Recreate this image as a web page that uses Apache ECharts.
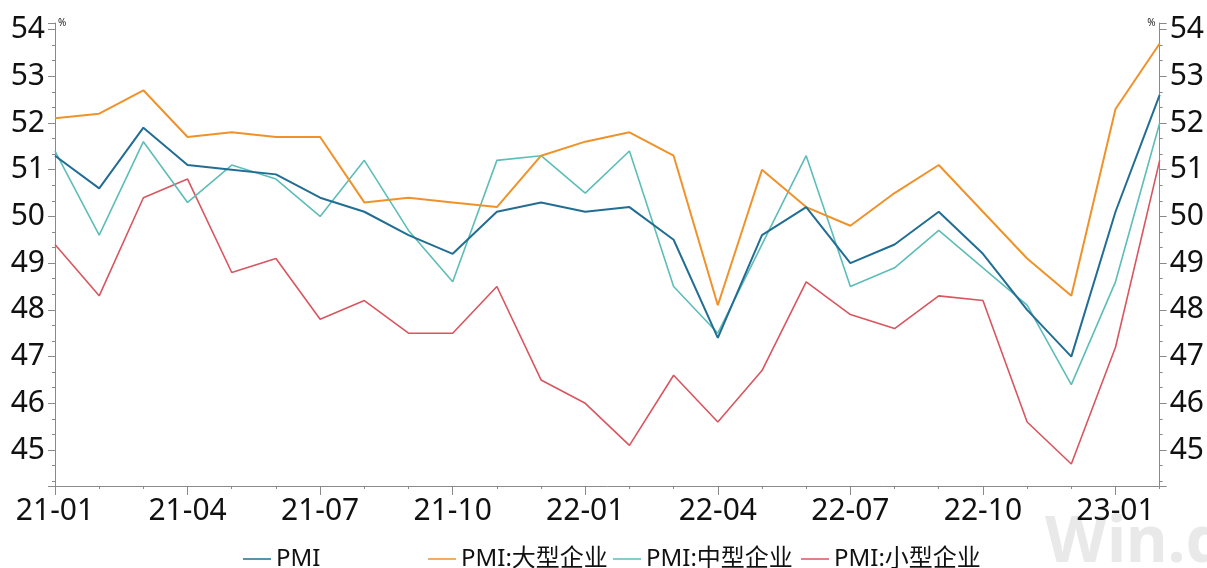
<!DOCTYPE html>
<html>
<head>
<meta charset="utf-8">
<script src="https://cdn.jsdelivr.net/npm/echarts@6/dist/echarts.min.js"></script>
<style>
  html, body { margin: 0; padding: 0; background: #fff; }
  #chart { width: 1207px; height: 568px; }
</style>
</head>
<body>
<div id="chart"></div>
<script>
// Monthly manufacturing PMI, overall and by enterprise size (%)
const months = [
  '21-01','21-02','21-03','21-04','21-05','21-06','21-07','21-08','21-09','21-10','21-11','21-12',
  '22-01','22-02','22-03','22-04','22-05','22-06','22-07','22-08','22-09','22-10','22-11','22-12',
  '23-01','23-02'
];
const pmi = [51.3, 50.6, 51.9, 51.1, 51.0, 50.9, 50.4, 50.1, 49.6, 49.2, 50.1, 50.3,
             50.1, 50.2, 49.5, 47.4, 49.6, 50.2, 49.0, 49.4, 50.1, 49.2, 48.0, 47.0,
             50.1, 52.6];
const pmiLarge = [52.1, 52.2, 52.7, 51.7, 51.8, 51.7, 51.7, 50.3, 50.4, 50.3, 50.2, 51.3,
                  51.6, 51.8, 51.3, 48.1, 51.0, 50.2, 49.8, 50.5, 51.1, 50.1, 49.1, 48.3,
                  52.3, 53.7];
const pmiMedium = [51.4, 49.6, 51.6, 50.3, 51.1, 50.8, 50.0, 51.2, 49.7, 48.6, 51.2, 51.3,
                   50.5, 51.4, 48.5, 47.5, 49.4, 51.3, 48.5, 48.9, 49.7, 48.9, 48.1, 46.4,
                   48.6, 52.0];
const pmiSmall = [49.4, 48.3, 50.4, 50.8, 48.8, 49.1, 47.8, 48.2, 47.5, 47.5, 48.5, 46.5,
                  46.0, 45.1, 46.6, 45.6, 46.7, 48.6, 47.9, 47.6, 48.3, 48.2, 45.6, 44.7,
                  47.2, 51.2];
const seriesNames = ['PMI', 'PMI:大型企业', 'PMI:中型企业', 'PMI:小型企业'];
const colors = ['#226e93', '#f0922a', '#5dbdb8', '#d8565f'];
const legendLefts = [238, 423, 608, 796];

const FONT = '"Noto Sans", "Noto Sans CJK SC", sans-serif';
const AXIS_COLOR = '#8a8a8a';
const Y_MIN = 44.23, Y_MAX = 54.14;

const chart = echarts.init(document.getElementById('chart'), null, { renderer: 'canvas' });

function yAxisDef(pos) {
  const left = pos === 'left';
  return {
    type: 'value',
    position: pos,
    min: Y_MIN,
    max: Y_MAX,
    splitNumber: 10,
    name: '%',
    nameLocation: 'end',
    nameGap: 0,
    nameTextStyle: {
      fontSize: 10, color: '#222', fontFamily: FONT,
      align: left ? 'left' : 'right', verticalAlign: 'middle',
      padding: left ? [0, 0, 0, 3] : [0, 4, 0, 0]
    },
    axisLine: { show: true, lineStyle: { color: AXIS_COLOR, width: 1 } },
    axisTick: { show: true, length: 7, lineStyle: { color: AXIS_COLOR } },
    minorTick: { show: true, splitNumber: 3, length: 3, lineStyle: { color: AXIS_COLOR } },
    splitLine: { show: false },
    axisLabel: {
      show: true, margin: 10, fontSize: 30, color: '#111', fontFamily: FONT,
      showMinLabel: false, showMaxLabel: false,
      formatter: v => (Math.abs(v - Math.round(v)) < 1e-6 ? String(Math.round(v)) : '')
    }
  };
}

// one legend block per series so each entry sits in its own fixed column
const legends = seriesNames.map((name, i) => ({
  data: [name],
  left: legendLefts[i],
  top: 542,
  icon: 'rect',
  itemWidth: 28,
  itemHeight: 1.5,
  textStyle: { fontSize: 24, color: '#111', fontFamily: FONT }
}));

const option = {
  backgroundColor: '#fff',
  animation: false,
  grid: { left: 55, right: 47, top: 23, bottom: 82, containLabel: false },
  legend: legends,
  xAxis: [
    {
      // monthly minor ticks
      type: 'category', data: months, boundaryGap: false,
      axisLine: { show: true, lineStyle: { color: AXIS_COLOR } },
      axisTick: { show: true, interval: 0, length: 3, lineStyle: { color: AXIS_COLOR } },
      axisLabel: { show: false },
      splitLine: { show: false }
    },
    {
      // quarterly major ticks and labels
      type: 'category', data: months, boundaryGap: false, position: 'bottom',
      axisLine: { show: false },
      axisTick: { show: true, interval: 2, length: 9, lineStyle: { color: AXIS_COLOR } },
      axisLabel: { show: true, interval: 2, margin: 10, fontSize: 30, color: '#111', fontFamily: FONT },
      splitLine: { show: false }
    }
  ],
  yAxis: [yAxisDef('left'), yAxisDef('right')],
  graphic: [
    {
      type: 'text', left: 1045, top: 512, z: -10, silent: true,
      style: { text: 'Win.d', fontSize: 64, fontWeight: 'bold', fill: '#e9e9e9', fontFamily: FONT }
    }
  ],
  series: [
    { name: seriesNames[0], data: pmi, width: 2 },
    { name: seriesNames[1], data: pmiLarge, width: 2 },
    { name: seriesNames[2], data: pmiMedium, width: 1.6 },
    { name: seriesNames[3], data: pmiSmall, width: 1.6 }
  ].map((s, i) => ({
    name: s.name,
    type: 'line',
    xAxisIndex: 0,
    yAxisIndex: 0,
    data: s.data,
    symbol: 'none',
    smooth: false,
    lineStyle: { color: colors[i], width: s.width },
    itemStyle: { color: colors[i] },
    z: 10 - i
  }))
};

chart.setOption(option);
</script>
</body>
</html>
